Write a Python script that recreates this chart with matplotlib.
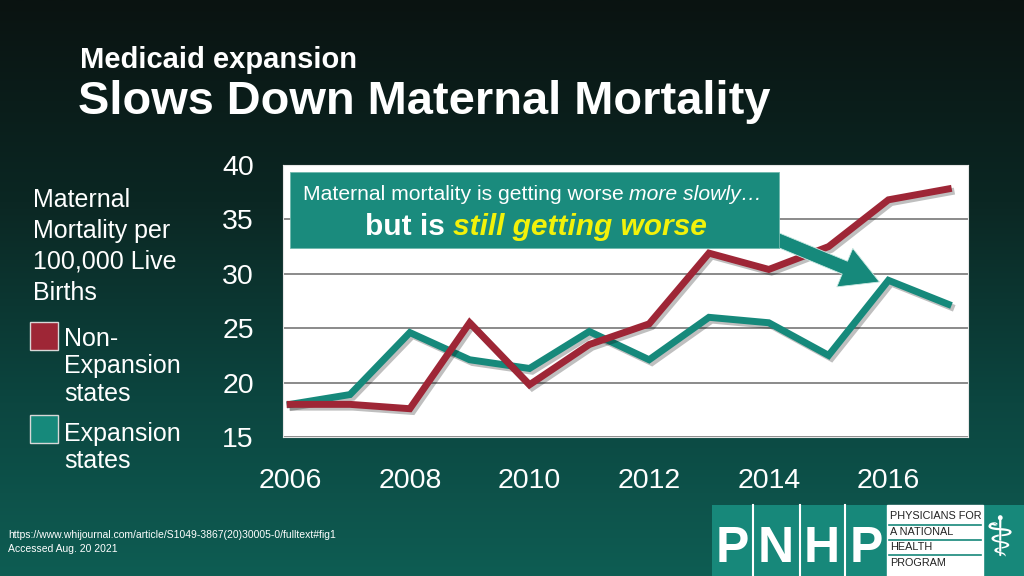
import numpy as np
import matplotlib
matplotlib.use("Agg")
import matplotlib.pyplot as plt
import matplotlib.patheffects as pe
from matplotlib.colors import LinearSegmentedColormap
from matplotlib.patches import Rectangle, FancyArrowPatch

plt.rcParams['font.family'] = ['Liberation Sans', 'DejaVu Sans']

# data
years = [2006, 2007, 2008, 2009, 2010, 2011, 2012, 2013, 2014, 2015, 2016, 2017]
non_expansion = [18.0, 18.0, 17.6, 25.5, 19.8, 23.5, 25.4, 31.9, 30.4, 32.5, 36.8, 37.8]
expansion = [18.0, 18.9, 24.6, 22.1, 21.3, 24.7, 22.1, 26.0, 25.5, 22.5, 29.4, 27.2]
xticks = [2006, 2008, 2010, 2012, 2014, 2016]
yticks = [15, 20, 25, 30, 35, 40]

RED = "#9e2636"
TEAL = "#16897b"

fig = plt.figure(figsize=(10.24, 5.76), dpi=100)

# background in pixel coordinates
bg = fig.add_axes([0, 0, 1, 1], zorder=0)
cmap = LinearSegmentedColormap.from_list(
    "bg", [(0, "#0a1311"), (0.35, "#0b2723"), (0.7, "#0c4640"), (1, "#0e5d53")])
bg.imshow(np.linspace(0, 1, 256).reshape(-1, 1), aspect="auto", cmap=cmap,
          extent=(0, 1024, 576, 0))
bg.set_xlim(0, 1024)
bg.set_ylim(576, 0)
bg.axis("off")

# titles
bg.text(80, 60, "Medicaid expansion", color="white", fontsize=21, fontweight="bold", va="center")
bg.text(78, 102, "Slows Down Maternal Mortality", color="white", fontsize=33.8,
        fontweight="bold", va="center")

# y label + legend
bg.text(33, 188, "Maternal\nMortality per\n100,000 Live\nBirths", color="white",
        fontsize=18, va="top", linespacing=1.36)
bg.add_patch(Rectangle((30, 322), 28, 28, facecolor=RED, edgecolor="#d8d8d8", lw=1))
bg.add_patch(Rectangle((30, 415), 28, 28, facecolor=TEAL, edgecolor="#d8d8d8", lw=1))
bg.text(64, 327, "Non-\nExpansion\nstates", color="white", fontsize=18, va="top", linespacing=1.18)
bg.text(64, 422, "Expansion\nstates", color="white", fontsize=18, va="top", linespacing=1.18)

# footer
bg.text(8, 535, "https://www.whijournal.com/article/S1049-3867(20)30005-0/fulltext#fig1",
        color="white", fontsize=7.5, va="center")
bg.text(8, 549, "Accessed Aug. 20 2021", color="white", fontsize=7.5, va="center")

# PNHP logo
bg.add_patch(Rectangle((712, 505), 312, 71, facecolor="#17887a", edgecolor="none"))
for xl in [753, 800, 845]:
    bg.plot([xl, xl], [505, 576], color="white", lw=1.5)
for cx, letter in zip([732, 776, 822, 866], "PNHP"):
    bg.text(cx, 549, letter, color="white", fontsize=36, fontweight="heavy",
            ha="center", va="center")
bg.add_patch(Rectangle((887, 505), 96, 71, facecolor="white", edgecolor="white"))
for yl in [525, 540, 555]:
    bg.plot([889, 981], [yl, yl], color="#17887a", lw=1.2)
for yy, s in zip([516, 532, 547, 563], ["PHYSICIANS FOR", "A NATIONAL", "HEALTH", "PROGRAM"]):
    bg.text(890, yy, s, color="#222222", fontsize=7.8, va="center")
bg.text(1000, 542, "\u2695", color="white", fontsize=40, ha="center", va="center",
        family="DejaVu Sans")

# main chart
ax = fig.add_axes([283 / 1024, 1 - 437 / 576, 685 / 1024, 272 / 576], zorder=2)
ax.set_facecolor("white")
shadow = [pe.SimpleLineShadow(offset=(2, -2), alpha=0.25), pe.Normal()]
ax.plot(years, expansion, color=TEAL, lw=5, solid_joinstyle="miter", path_effects=shadow, zorder=3)
ax.plot(years, non_expansion, color=RED, lw=5, solid_joinstyle="miter", path_effects=shadow, zorder=4)
ax.set_xlim(2005.88, 2017.33)
ax.set_ylim(15, 40)
ax.set_xticks(xticks)
ax.set_yticks(yticks)
ax.yaxis.grid(True, color="#777777", lw=1.2)
ax.set_axisbelow(True)
ax.tick_params(length=0, colors="white", labelsize=20.5)
ax.tick_params(axis="y", pad=21)
ax.tick_params(axis="x", pad=22)
for sp in ax.spines.values():
    sp.set_color("#e6e6e6")

# callout box + arrow
arrow = FancyArrowPatch((2013.5, 34.6), (2015.85, 29.25), shrinkA=0, shrinkB=0,
                        arrowstyle="simple,head_length=1.35,head_width=1.5,tail_width=0.5",
                        mutation_scale=20, facecolor=TEAL, edgecolor="#c9e8e2", lw=0.6, zorder=5)
ax.add_patch(arrow)
ax.add_patch(Rectangle((0.010, 0.695), 0.714, 0.279, transform=ax.transAxes,
                       facecolor="#1a8b7d", edgecolor="#6fb8ad", lw=0.6, zorder=6))
t1 = ax.text(0.029, 0.893, "Maternal mortality is getting worse ", transform=ax.transAxes,
             color="white", fontsize=15.2, va="center", zorder=7)
ax.annotate("more slowly\u2026", xy=(1, 0), xycoords=t1, va="bottom", ha="left",
            color="white", fontsize=15.2, style="italic", zorder=7)
t2 = ax.text(0.119, 0.771, "but is ", transform=ax.transAxes, color="white",
             fontsize=21.5, fontweight="bold", va="center", zorder=7)
ax.annotate("still getting worse", xy=(1, 0), xycoords=t2, va="bottom", ha="left",
            color="#f2f20a", fontsize=21.5, fontweight="bold", style="italic", zorder=7)

fig.savefig("out.png", dpi=100)
